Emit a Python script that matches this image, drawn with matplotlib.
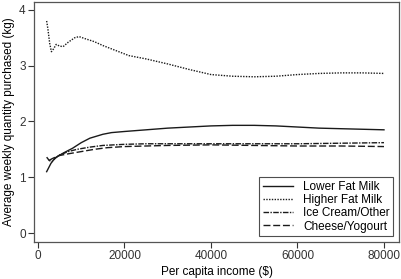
import numpy as np
import matplotlib
matplotlib.use("Agg")
import matplotlib.pyplot as plt

plt.rcParams['font.family'] = ['Liberation Sans', 'DejaVu Sans']

# per capita income ($)
income_low = [2000, 3000, 4000, 6000, 8000, 10000, 12000, 15000, 17000, 20000, 25000, 30000,
              35000, 40000, 45000, 50000, 55000, 60000, 65000, 70000, 75000, 80000]
lower_fat = [1.10, 1.25, 1.35, 1.44, 1.52, 1.62, 1.70, 1.77, 1.80, 1.82, 1.85, 1.88,
             1.90, 1.92, 1.93, 1.93, 1.92, 1.90, 1.88, 1.87, 1.86, 1.85]

income_high = [2000, 2300, 2700, 3100, 3600, 4200, 5000, 5800, 7000, 8500, 9500, 11000,
               13000, 15000, 18000, 21000, 25000, 30000, 35000, 40000, 45000, 50000,
               55000, 60000, 65000, 70000, 75000, 80000]
higher_fat = [3.80, 3.65, 3.40, 3.25, 3.30, 3.38, 3.35, 3.34, 3.42, 3.50, 3.52, 3.48,
              3.43, 3.36, 3.27, 3.18, 3.12, 3.03, 2.93, 2.84, 2.81, 2.80,
              2.81, 2.84, 2.86, 2.87, 2.87, 2.86]

income_ice = [2000, 2600, 3200, 4000, 5000, 7000, 9000, 12000, 15000, 20000, 25000, 30000,
              40000, 50000, 60000, 70000, 80000]
ice_cream = [1.36, 1.30, 1.28, 1.34, 1.40, 1.46, 1.50, 1.54, 1.57, 1.59, 1.60, 1.60,
             1.60, 1.60, 1.60, 1.61, 1.62]

income_cheese = [2500, 3200, 4000, 5000, 7000, 10000, 13000, 16000, 20000, 25000, 30000,
                 40000, 50000, 60000, 70000, 80000]
cheese = [1.30, 1.33, 1.36, 1.39, 1.42, 1.46, 1.50, 1.53, 1.55, 1.56, 1.57,
          1.58, 1.57, 1.56, 1.56, 1.55]

fig = plt.figure(figsize=(4.01, 2.79), dpi=100)
ax = fig.add_axes([34/401, 37/279, 365/401, 240/279])

lc = '#1a1a1a'
ax.plot(income_low, lower_fat, color=lc, lw=1.0, ls='-', label='Lower Fat Milk')
ax.plot(income_high, higher_fat, color=lc, lw=1.0, ls=(0, (1, 1)), label='Higher Fat Milk')
ax.plot(income_ice, ice_cream, color=lc, lw=1.0, ls=(0, (4, 1, 1, 1)), label='Ice Cream/Other')
ax.plot(income_cheese, cheese, color=lc, lw=1.0, ls=(0, (5, 2)), label='Cheese/Yogourt')

ax.set_xlim(-925, 83470)
ax.set_ylim(-0.16, 4.14)
ax.set_xticks([0, 20000, 40000, 60000, 80000])
ax.set_yticks([0, 1, 2, 3, 4])
ax.tick_params(labelsize=8.5, length=4, width=0.8, colors='#333333', pad=2)
for s in ax.spines.values():
    s.set_color('#555555')
    s.set_linewidth(0.9)

ax.set_xlabel('Per capita income ($)', fontsize=8.5, labelpad=3)
ax.set_ylabel('Average weekly quantity purchased (kg)', fontsize=8.5, labelpad=3)

leg = ax.legend(loc='lower right', fontsize=8.5, frameon=True, fancybox=False,
                edgecolor='#222222', handlelength=2.6, borderpad=0.3,
                labelspacing=0.1, handletextpad=0.8, borderaxespad=0.5)
leg.get_frame().set_linewidth(0.8)

fig.savefig('out.png', dpi=100)
